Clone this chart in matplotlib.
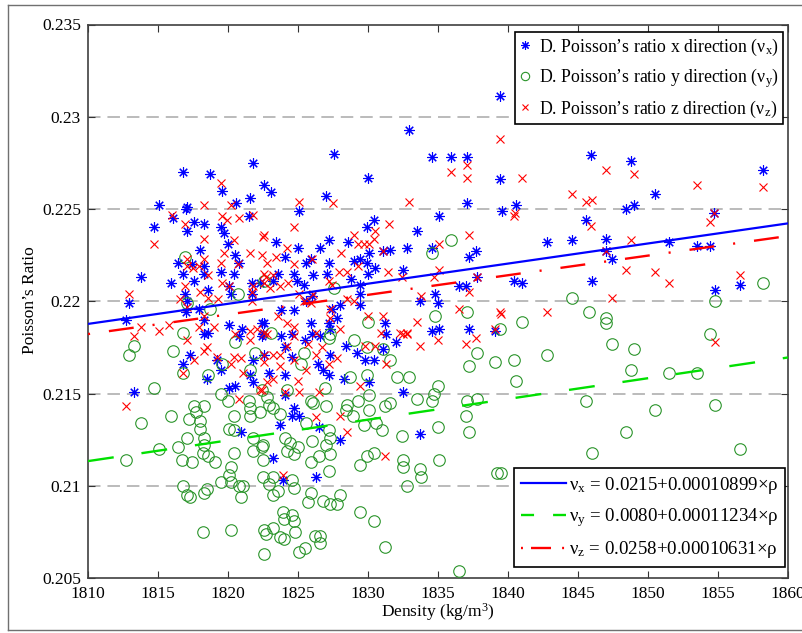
import matplotlib
matplotlib.use('Agg')
import matplotlib.pyplot as plt
from matplotlib.lines import Line2D
import numpy as np

plt.rcParams['font.family'] = ['Liberation Serif', 'DejaVu Serif']
plt.rcParams['mathtext.fontset'] = 'custom'
plt.rcParams['mathtext.rm'] = 'Liberation Serif'
plt.rcParams['mathtext.it'] = 'Liberation Serif:italic'
plt.rcParams['mathtext.bf'] = 'Liberation Serif:bold'
plt.rcParams['lines.scale_dashes'] = False

# ---------------- data ----------------
# Poisson's ratio, x direction (blue asterisks)
dens_x = [1821.8, 1816.8, 1818.7, 1819.6, 1821.6, 1822.6, 1820.6, 1815.1, 1817.1, 1817.0,
          1816.1, 1817.6, 1818.3, 1821.5, 1814.7, 1817.1, 1819.5, 1819.7, 1820.0, 1818.0,
          1820.5, 1816.4, 1817.4, 1818.3, 1820.8, 1819.5, 1820.4, 1818.3, 1816.8, 1813.8,
          1815.9, 1817.6, 1818.6, 1820.1, 1821.7, 1822.3, 1816.9, 1817.1, 1820.2, 1821.7,
          1812.9, 1817.0, 1817.9, 1812.7, 1818.3, 1818.6, 1821.0, 1822.4, 1822.5, 1820.1,
          1827.6, 1834.6, 1830.0, 1823.1, 1827.0, 1825.1, 1835.1, 1830.4, 1829.9, 1833.5,
          1823.4, 1827.2, 1828.6, 1825.0, 1826.6, 1832.8, 1834.6, 1831.1, 1831.6, 1830.1,
          1824.1, 1825.9, 1827.2, 1829.0, 1829.4, 1829.9, 1830.5, 1825.6, 1823.6, 1824.7,
          1826.1, 1827.1, 1830.0, 1832.5, 1824.9, 1825.4, 1828.8, 1823.2, 1829.4, 1829.4,
          1826.0, 1825.6, 1829.4, 1828.0, 1823.8, 1824.7, 1827.4, 1833.7, 1834.8, 1835.0,
          1827.8, 1825.9, 1827.2, 1827.3, 1822.6, 1831.2, 1834.6, 1835.1, 1831.3, 1824.6,
          1826.6, 1832.9,
          1818.3, 1820.8, 1822.4, 1817.3, 1822.6, 1816.8, 1819.2, 1821.8, 1819.5, 1821.6,
          1818.5, 1821.8, 1820.5, 1820.1, 1813.3, 1820.9,
          1823.8, 1826.0, 1825.5, 1832.0, 1824.1, 1824.6, 1827.3, 1828.4, 1829.2, 1829.8,
          1830.4, 1831.1, 1826.4, 1826.8, 1827.2, 1822.9, 1824.1, 1828.3, 1830.1, 1832.5,
          1824.1, 1824.7, 1824.6, 1825.1, 1823.7, 1826.5, 1828.0, 1833.7, 1823.2, 1826.3,
          1823.9,
          1839.4, 1835.9, 1837.1, 1845.9, 1848.8, 1858.2, 1839.4, 1850.5, 1837.1, 1840.6,
          1839.6, 1848.4, 1849.0, 1854.7, 1845.6, 1842.8, 1844.6, 1847.0, 1851.5, 1837.7,
          1837.2, 1847.0, 1847.4, 1853.5, 1854.4, 1837.8, 1836.5, 1837.0, 1840.4, 1841.0,
          1846.0, 1854.8, 1856.6, 1837.2, 1839.1]
nu_x = [0.2275, 0.2270, 0.2269, 0.2260, 0.2256, 0.2263, 0.2253, 0.2252, 0.2251, 0.2250,
        0.2245, 0.2243, 0.2242, 0.2246, 0.2240, 0.2238, 0.2240, 0.2237, 0.2231, 0.2228,
        0.2225, 0.2221, 0.2220, 0.2219, 0.2221, 0.2216, 0.2215, 0.2215, 0.2215, 0.2213,
        0.2210, 0.2211, 0.2206, 0.2208, 0.2210, 0.2210, 0.2204, 0.2200, 0.2204, 0.2204,
        0.2199, 0.2194, 0.2196, 0.2190, 0.2190, 0.2183, 0.2185, 0.2188, 0.2182, 0.2187,
        0.2280, 0.2278, 0.2267, 0.2259, 0.2257, 0.2249, 0.2246, 0.2244, 0.2240, 0.2238,
        0.2232, 0.2233, 0.2232, 0.2229, 0.2229, 0.2229, 0.2229, 0.2227, 0.2228, 0.2226,
        0.2224, 0.2223, 0.2221, 0.2222, 0.2223, 0.2221, 0.2218, 0.2221, 0.2215, 0.2215,
        0.2214, 0.2215, 0.2215, 0.2217, 0.2211, 0.2209, 0.2212, 0.2211, 0.2209, 0.2204,
        0.2203, 0.2200, 0.2198, 0.2198, 0.2195, 0.2195, 0.2196, 0.2200, 0.2204, 0.2199,
        0.2191, 0.2188, 0.2188, 0.2185, 0.2188, 0.2188, 0.2184, 0.2185, 0.2182, 0.2182,
        0.2181, 0.2293,
        0.2182, 0.2181, 0.2181, 0.2171, 0.2171, 0.2166, 0.2168, 0.2168, 0.2163, 0.2160,
        0.2158, 0.2156, 0.2154, 0.2153, 0.2151, 0.2129,
        0.2181, 0.2182, 0.2179, 0.2178, 0.2175, 0.2170, 0.2171, 0.2176, 0.2172, 0.2168,
        0.2168, 0.2174, 0.2166, 0.2163, 0.2160, 0.2161, 0.2160, 0.2158, 0.2156, 0.2151,
        0.2149, 0.2142, 0.2138, 0.2138, 0.2133, 0.2132, 0.2125, 0.2128, 0.2115, 0.2105,
        0.2103,
        0.2311, 0.2278, 0.2278, 0.2279, 0.2276, 0.2271, 0.2266, 0.2258, 0.2253, 0.2252,
        0.2249, 0.2250, 0.2252, 0.2248, 0.2244, 0.2232, 0.2233, 0.2234, 0.2232, 0.2227,
        0.2224, 0.2227, 0.2223, 0.2230, 0.2230, 0.2213, 0.2208, 0.2208, 0.2211, 0.2210,
        0.2211, 0.2206, 0.2209, 0.2185, 0.2184]

# Poisson's ratio, y direction (green circles)
dens_y = [1813.3, 1812.9, 1816.1, 1816.8, 1818.6, 1819.6, 1820.5, 1821.9, 1821.6, 1822.4,
          1814.7, 1813.8, 1815.9, 1817.6, 1817.7, 1818.3, 1817.2, 1818.0, 1818.0, 1817.1,
          1816.4, 1818.3, 1818.3, 1818.2, 1818.6, 1819.1, 1816.7, 1817.4, 1815.1, 1812.7,
          1819.5, 1820.0, 1820.4, 1820.1, 1820.4, 1821.5, 1821.6, 1821.6, 1822.3, 1821.8,
          1822.4, 1821.8, 1822.5, 1820.4, 1820.2, 1820.1, 1819.5, 1820.2, 1820.8, 1821.1,
          1820.9, 1816.8, 1817.1, 1817.3, 1818.3, 1818.5, 1818.2, 1820.2, 1822.6, 1822.7,
          1822.6,
          1825.4, 1825.2, 1827.2, 1829.0, 1829.9, 1831.6, 1831.1, 1828.7, 1829.9, 1832.1,
          1832.9, 1835.0, 1834.7, 1834.6, 1833.5, 1830.1, 1831.6, 1831.2, 1830.1, 1829.3,
          1828.5, 1828.4, 1828.9, 1830.6, 1829.7, 1831.0, 1832.4, 1835.0, 1822.8, 1823.2,
          1823.7, 1822.9, 1825.9, 1826.1, 1827.0, 1825.6, 1827.2, 1827.3, 1827.0, 1827.3,
          1826.0, 1826.5, 1825.9, 1824.1, 1824.4, 1825.0, 1824.7, 1824.2, 1822.5, 1822.5,
          1823.2, 1822.9, 1823.6, 1823.2, 1824.6, 1824.7, 1827.2, 1825.9, 1825.7, 1826.8,
          1827.3, 1827.8, 1828.0, 1829.4, 1830.4, 1823.9, 1824.0, 1824.6, 1824.7, 1824.8,
          1823.7, 1824.0, 1823.2, 1825.1, 1825.5, 1826.2, 1826.6, 1826.6, 1831.2, 1829.4,
          1829.9, 1830.4, 1832.5, 1832.5, 1833.7, 1833.8, 1832.8, 1835.1, 1826.9, 1824.2,
          1816.9, 1820.7, 1817.1, 1818.7, 1816.8, 1822.6, 1834.6, 1827.6, 1834.8, 1830.0,
          1823.1, 1827.3,
          1835.9, 1844.6, 1854.8, 1858.2, 1837.1, 1841.0, 1845.8, 1847.0, 1847.0, 1839.4,
          1847.4, 1849.0, 1842.8, 1837.8, 1837.2, 1839.1, 1840.4, 1854.4, 1840.6, 1848.8,
          1851.5, 1853.5, 1837.1, 1837.8, 1837.0, 1837.2, 1845.6, 1850.5, 1854.8, 1848.4,
          1846.0, 1856.6, 1839.2, 1839.5, 1836.5]
nu_y = [0.2176, 0.2171, 0.2173, 0.2161, 0.2160, 0.2166, 0.2178, 0.2172, 0.2163, 0.2152,
        0.2153, 0.2134, 0.2138, 0.2143, 0.2140, 0.2143, 0.2136, 0.2135, 0.2131, 0.2126,
        0.2121, 0.2126, 0.2122, 0.2118, 0.2116, 0.2113, 0.2114, 0.2113, 0.2120, 0.2114,
        0.2150, 0.2146, 0.2138, 0.2131, 0.2130, 0.2146, 0.2142, 0.2138, 0.2140, 0.2126,
        0.2121, 0.2119, 0.2114, 0.2118, 0.2110, 0.2106, 0.2102, 0.2102, 0.2100, 0.2100,
        0.2094, 0.2100, 0.2095, 0.2094, 0.2096, 0.2098, 0.2075, 0.2076, 0.2076, 0.2074,
        0.2063,
        0.2172, 0.2166, 0.2180, 0.2179, 0.2175, 0.2168, 0.2174, 0.2159, 0.2160, 0.2159,
        0.2159, 0.2154, 0.2150, 0.2146, 0.2147, 0.2149, 0.2145, 0.2143, 0.2141, 0.2146,
        0.2144, 0.2141, 0.2138, 0.2134, 0.2133, 0.2130, 0.2127, 0.2132, 0.2148, 0.2142,
        0.2139, 0.2144, 0.2146, 0.2145, 0.2143, 0.2134, 0.2130, 0.2126, 0.2122, 0.2117,
        0.2124, 0.2116, 0.2113, 0.2126, 0.2123, 0.2121, 0.2117, 0.2119, 0.2122, 0.2105,
        0.2105, 0.2101, 0.2097, 0.2095, 0.2103, 0.2099, 0.2108, 0.2096, 0.2091, 0.2092,
        0.2090, 0.2090, 0.2095, 0.2086, 0.2081, 0.2086, 0.2082, 0.2084, 0.2081, 0.2075,
        0.2072, 0.2071, 0.2077, 0.2064, 0.2066, 0.2073, 0.2073, 0.2069, 0.2067, 0.2111,
        0.2116, 0.2118, 0.2114, 0.2110, 0.2109, 0.2105, 0.2100, 0.2114, 0.2153, 0.2152,
        0.2224, 0.2204, 0.2199, 0.2196, 0.2183, 0.2211, 0.2226, 0.2207, 0.2192, 0.2189,
        0.2183, 0.2182,
        0.2233, 0.2202, 0.2200, 0.2210, 0.2194, 0.2189, 0.2194, 0.2191, 0.2188, 0.2185,
        0.2177, 0.2174, 0.2171, 0.2172, 0.2165, 0.2167, 0.2168, 0.2182, 0.2157, 0.2163,
        0.2161, 0.2161, 0.2146, 0.2147, 0.2138, 0.2129, 0.2146, 0.2141, 0.2144, 0.2129,
        0.2118, 0.2120, 0.2107, 0.2107, 0.2054]

# Poisson's ratio, z direction (red crosses)
dens_z = [1819.5, 1818.3, 1820.2, 1816.0, 1816.9, 1819.6, 1819.9, 1820.8, 1821.8, 1822.5,
          1818.3, 1820.4, 1814.7, 1819.7, 1818.3, 1821.6, 1822.4, 1817.1, 1817.9, 1817.5,
          1818.6, 1817.1, 1819.5, 1820.7, 1819.6, 1820.1, 1816.9, 1818.0, 1821.7, 1821.8,
          1822.6, 1822.7, 1812.9, 1816.6, 1817.1, 1819.3, 1818.6, 1821.7, 1818.3, 1813.8,
          1815.1, 1813.3, 1815.8, 1817.9, 1819.0, 1820.5, 1821.6, 1822.1,
          1825.1, 1827.5, 1832.9, 1824.7, 1831.5, 1822.6, 1829.0, 1830.5, 1830.4, 1829.3,
          1829.7, 1830.1, 1824.2, 1831.1, 1835.1, 1823.4, 1826.0, 1828.1, 1824.7, 1822.8,
          1827.9, 1828.5, 1829.3, 1831.4, 1832.4, 1834.7, 1835.1, 1822.6, 1823.2, 1823.7,
          1824.3, 1827.2, 1827.4, 1823.0, 1825.1, 1826.1, 1828.5, 1829.0, 1833.8, 1825.4,
          1825.9, 1823.6, 1824.2, 1827.3, 1830.0, 1831.1, 1833.5, 1827.3, 1828.0, 1822.6,
          1824.7, 1826.3, 1832.3, 1832.8, 1830.9,
          1839.4, 1835.9, 1837.1, 1837.1, 1841.0, 1847.0, 1849.0, 1853.5, 1858.2, 1844.6,
          1845.6, 1846.0, 1840.5, 1840.4, 1845.9, 1854.4, 1854.7, 1837.2, 1848.8, 1847.0,
          1848.4, 1850.5, 1837.8, 1851.5, 1837.2, 1847.4, 1856.6, 1836.5, 1839.4, 1839.5,
          1842.8, 1839.1, 1837.0, 1837.7, 1854.8,
          1817.1, 1818.3, 1818.5, 1817.6, 1819.2, 1820.2, 1820.4, 1820.9, 1821.6, 1821.1,
          1816.8, 1812.7, 1820.8, 1822.3, 1822.6,
          1822.8, 1824.7, 1824.2, 1825.7, 1826.7, 1826.3, 1823.2, 1823.7, 1822.6, 1824.7,
          1827.8, 1827.2, 1825.6, 1823.7, 1822.8, 1823.2, 1825.0, 1822.4, 1824.1, 1825.1,
          1826.5, 1829.4, 1829.8, 1830.5, 1831.3, 1832.5, 1832.8, 1833.7, 1835.0, 1826.3,
          1828.0, 1828.5, 1831.2, 1823.9]
nu_z = [0.2264, 0.2252, 0.2252, 0.2247, 0.2242, 0.2246, 0.2244, 0.2245, 0.2247, 0.2235,
        0.2234, 0.2233, 0.2231, 0.2226, 0.2223, 0.2226, 0.2225, 0.2223, 0.2219, 0.2218,
        0.2214, 0.2219, 0.2221, 0.2220, 0.2210, 0.2208, 0.2208, 0.2205, 0.2205, 0.2208,
        0.2210, 0.2213, 0.2204, 0.2201, 0.2197, 0.2201, 0.2202, 0.2200, 0.2192, 0.2186,
        0.2184, 0.2181, 0.2187, 0.2186, 0.2186, 0.2182, 0.2184, 0.2185,
        0.2254, 0.2253, 0.2254, 0.2240, 0.2242, 0.2236, 0.2236, 0.2238, 0.2234, 0.2231,
        0.2231, 0.2231, 0.2229, 0.2227, 0.2231, 0.2224, 0.2223, 0.2226, 0.2220, 0.2221,
        0.2216, 0.2216, 0.2219, 0.2216, 0.2213, 0.2213, 0.2217, 0.2215, 0.2214, 0.2208,
        0.2210, 0.2211, 0.2209, 0.2207, 0.2204, 0.2204, 0.2201, 0.2200, 0.2203, 0.2200,
        0.2199, 0.2192, 0.2188, 0.2196, 0.2192, 0.2192, 0.2189, 0.2191, 0.2185, 0.2183,
        0.2186, 0.2183, 0.2183, 0.2183, 0.2183,
        0.2288, 0.2270, 0.2274, 0.2267, 0.2267, 0.2271, 0.2269, 0.2263, 0.2262, 0.2258,
        0.2254, 0.2255, 0.2248, 0.2246, 0.2241, 0.2243, 0.2248, 0.2236, 0.2233, 0.2227,
        0.2217, 0.2216, 0.2213, 0.2210, 0.2205, 0.2202, 0.2214, 0.2196, 0.2194, 0.2193,
        0.2194, 0.2185, 0.2177, 0.2180, 0.2178,
        0.2179, 0.2173, 0.2175, 0.2168, 0.2170, 0.2166, 0.2170, 0.2169, 0.2179, 0.2161,
        0.2161, 0.2143, 0.2147, 0.2152, 0.2171,
        0.2182, 0.2181, 0.2176, 0.2177, 0.2175, 0.2171, 0.2171, 0.2171, 0.2167, 0.2168,
        0.2169, 0.2166, 0.2163, 0.2165, 0.2156, 0.2158, 0.2157, 0.2152, 0.2151, 0.2151,
        0.2151, 0.2154, 0.2176, 0.2176, 0.2166, 0.2182, 0.2182, 0.2176, 0.2179, 0.2137,
        0.2138, 0.2129, 0.2116, 0.2106]

# linear fits  nu = a + b * rho
fit_a = [0.0215, 0.0080, 0.0258]
fit_b = [0.00010899, 0.00011234, 0.00010631]
fit_text = ["0.0215+0.00010899×ρ", "0.0080+0.00011234×ρ", "0.0258+0.00010631×ρ"]
subs = ["x", "y", "z"]

x_ticks = [1810, 1815, 1820, 1825, 1830, 1835, 1840, 1845, 1850, 1855, 1860]
y_ticks = [0.205, 0.21, 0.215, 0.22, 0.225, 0.23, 0.235]
y_tick_labels = ["0.205", "0.21", "0.215", "0.22", "0.225", "0.23", "0.235"]

# ---------------- figure ----------------
W, H = 802, 633
fig = plt.figure(figsize=(W / 100, H / 100), dpi=100)
ax_l, ax_r, ax_t, ax_b = 88, 788, 24.5, 578
ax = fig.add_axes([ax_l / W, 1 - ax_b / H, (ax_r - ax_l) / W, (ax_b - ax_t) / H])

star = (8, 2, 0)
blue = '#0000ff'
green_pt = '#2a942a'
green_ln = '#00e000'
red = '#ff0000'

ax.plot(dens_x, nu_x, ls='none', marker=star, ms=7.5, mew=0.8, color=blue, zorder=3)
ax.plot(dens_y, nu_y, ls='none', marker='o', ms=8.3, mew=0.8, mfc='none', mec=green_pt, zorder=3)
ax.plot(dens_z, nu_z, ls='none', marker='x', ms=5.5, mew=0.8, color=red, zorder=3)

rho = np.array([1810.0, 1860.0])
ax.plot(rho, fit_a[0] + fit_b[0] * rho, color=blue, lw=1.6, solid_capstyle='butt', zorder=4)
ax.plot(rho, fit_a[1] + fit_b[1] * rho, color=green_ln, lw=1.7, ls=(0, (18.7, 20.2)),
        dash_capstyle='butt', zorder=4)
ax.plot(rho, fit_a[2] + fit_b[2] * rho, color=red, lw=1.7, ls=(0, (1.5, 13.7, 18.0, 13.7)),
        dash_capstyle='butt', zorder=4)

ax.set_xlim(1810, 1860)
ax.set_ylim(0.205, 0.235)
ax.set_xticks(x_ticks)
ax.set_xticklabels([str(t) for t in x_ticks])
ax.set_yticks(y_ticks)
ax.set_yticklabels(y_tick_labels)
ax.tick_params(direction='in', length=5, width=0.8, top=True, right=True,
               labelsize=12.5, colors='#333333', labelcolor='black')
ax.tick_params(axis='x', pad=6)
ax.tick_params(axis='y', pad=5)
for s in ax.spines.values():
    s.set_color('#404040')
    s.set_linewidth(1.2)

for yv in y_ticks[1:-1]:
    ax.axhline(yv, color='#a8a8a8', lw=1.1, ls=(0, (9, 5)), zorder=1)

fig.text(30 / W, 1 - 300 / H, "Poisson’s Ratio", rotation=90, ha='center', va='center', fontsize=12.5)
fig.text(438 / W, 1 - 612 / H, "Density (kg/m$^{3}$)", ha='center', va='center', fontsize=12.5)

# legend 1 (markers)
h1 = [Line2D([], [], ls='none', marker=star, ms=6, mew=0.8, color=blue),
      Line2D([], [], ls='none', marker='o', ms=6, mew=0.8, mfc='none', mec=green_pt),
      Line2D([], [], ls='none', marker='x', ms=5, mew=0.8, color=red)]
l1 = [r"D. Poisson’s ratio %s direction ($\mathrm{\nu}_{\mathrm{%s}}$)" % (s, s) for s in subs]
leg1 = ax.legend(h1, l1, loc='upper right', bbox_to_anchor=((783 - ax_l) / 700, (ax_b - 32) / (ax_b - ax_t)),
                 fontsize=12.8, frameon=True, fancybox=False, edgecolor='black', framealpha=1,
                 borderpad=0.25, labelspacing=0.48, handlelength=0.7, handletextpad=0.4,
                 borderaxespad=0)
leg1.get_frame().set_linewidth(1.2)
ax.add_artist(leg1)

# legend 2 (fit lines)
h2 = [Line2D([], [], color=blue, lw=1.6),
      Line2D([], [], color=green_ln, lw=1.7, ls=(0, (9.4, 13.7)), dash_capstyle='butt'),
      Line2D([], [], color=red, lw=1.7, ls=(0, (1.4, 5.8, 14.4, 8.0)), dash_capstyle='butt')]
l2 = [r"$\mathrm{\nu}_{\mathrm{%s}}$ = %s" % (s, t) for s, t in zip(subs, fit_text)]
leg2 = ax.legend(h2, l2, loc='lower right', bbox_to_anchor=((785 - ax_l) / 700, (ax_b - 567) / (ax_b - ax_t)),
                 fontsize=13.6, frameon=True, fancybox=False, edgecolor='black', framealpha=1,
                 borderpad=0.35, labelspacing=0.55, handlelength=2.4, handletextpad=0.15,
                 borderaxespad=0)
leg2.get_frame().set_linewidth(1.2)

# outer frame
fr = '#707070'
fig.add_artist(Line2D([8 / W, 8 / W], [1 - 5 / H, 1 - 630 / H], color=fr, lw=1.0, transform=fig.transFigure))
fig.add_artist(Line2D([8 / W, 1.0], [1 - 5 / H, 1 - 5 / H], color=fr, lw=1.0, transform=fig.transFigure))
fig.add_artist(Line2D([8 / W, 1.0], [1 - 630 / H, 1 - 630 / H], color=fr, lw=1.0, transform=fig.transFigure))

fig.savefig('out.png', dpi=100)
